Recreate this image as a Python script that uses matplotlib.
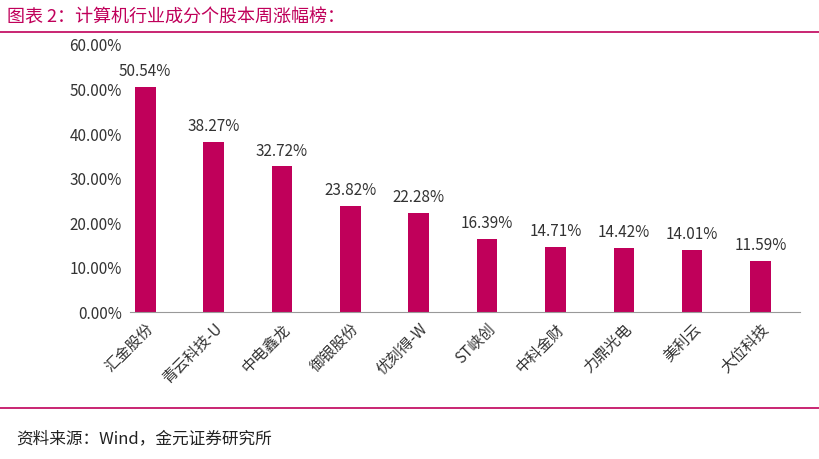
import matplotlib
matplotlib.use("Agg")
import matplotlib.pyplot as plt
from matplotlib.lines import Line2D

plt.rcParams['font.family'] = ['Noto Sans CJK SC', 'DejaVu Sans']

# ── DATA ─────────────────────────────────────────────
stocks = ["汇金股份", "青云科技-U", "中电鑫龙", "御银股份", "优刻得-W",
          "ST峡创", "中科金财", "力鼎光电", "美利云", "大位科技"]
gains = [50.54, 38.27, 32.72, 23.82, 22.28, 16.39, 14.71, 14.42, 14.01, 11.59]
yticks = [0, 10, 20, 30, 40, 50, 60]

RED = "#C0005A"

fig = plt.figure(figsize=(8.19, 4.59), dpi=100)
ax = fig.add_axes([0.159, 0.320, 0.818, 0.582])

x = range(len(stocks))
ax.bar(x, gains, width=0.3, color=RED)
for i, v in zip(x, gains):
    ax.text(i, v + 1.5, f"{v:.2f}%", ha="center", va="bottom", fontsize=11, color="#333333")

ax.set_ylim(0, 60)
ax.set_xlim(-0.22, len(stocks) - 0.42)
ax.set_yticks(yticks)
ax.set_yticklabels([f"{t:.2f}%" for t in yticks], fontsize=11, color="#333333")
ax.set_xticks(list(x))
ax.set_xticklabels(stocks, rotation=45, ha="right", rotation_mode="anchor",
                   fontsize=11, color="#333333")
ax.tick_params(axis="both", length=0, pad=6)
for s in ["top", "right", "left"]:
    ax.spines[s].set_visible(False)
ax.spines["bottom"].set_color("#999999")

fig.text(0.008, 0.962, "图表 2：计算机行业成分个股本周涨幅榜：", fontsize=13,
         color=RED, va="center")
fig.add_artist(Line2D([0, 1], [0.930, 0.930], color=RED, lw=1.2, transform=fig.transFigure))
fig.add_artist(Line2D([0, 1], [0.111, 0.111], color=RED, lw=1.2, transform=fig.transFigure))
fig.text(0.02, 0.045, "资料来源：Wind，金元证券研究所", fontsize=12, color="#222222", va="center")

fig.savefig("out.png", dpi=100)
